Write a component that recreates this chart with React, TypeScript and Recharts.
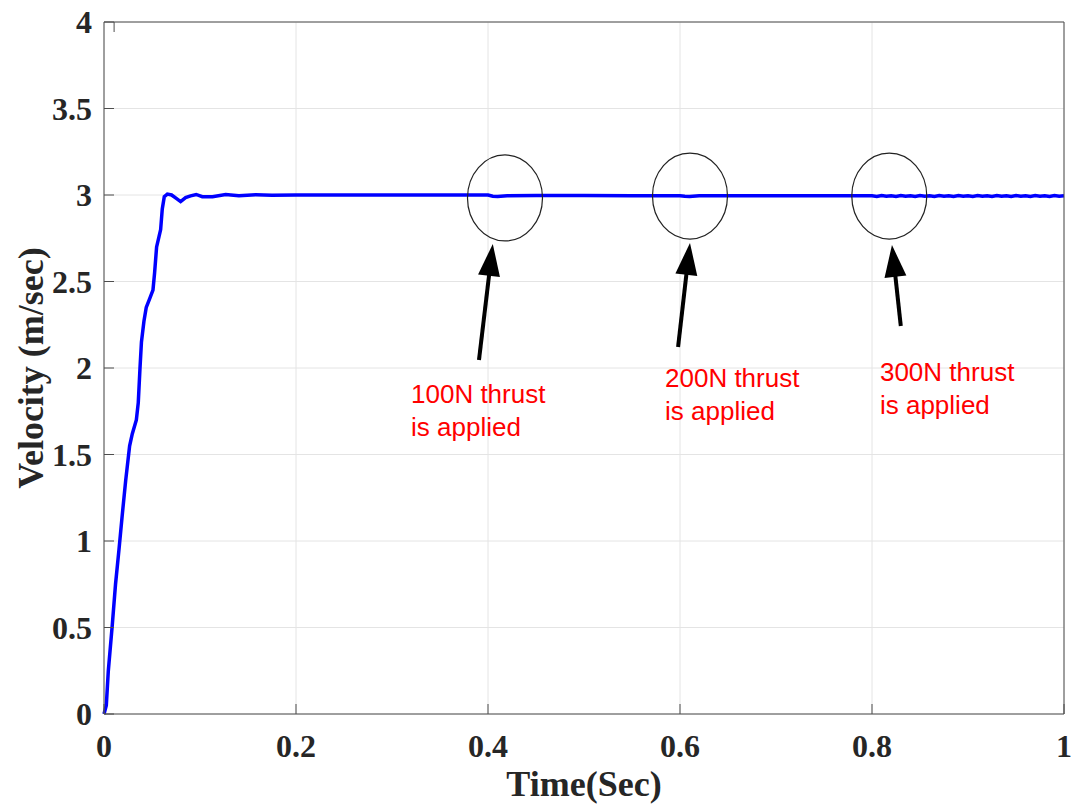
import { LineChart, Line, XAxis, YAxis, CartesianGrid, ReferenceDot, ReferenceLine } from "recharts";

// Time (s) and velocity (m/s)
const times = [
  0, 0.0024, 0.0045, 0.0087, 0.012, 0.0156, 0.019, 0.0226, 0.0267, 0.0295, 0.0337, 0.0357, 0.0375,
  0.039, 0.0416, 0.044, 0.0475, 0.051, 0.0527, 0.0548, 0.0573, 0.059, 0.0607, 0.0628, 0.066, 0.0704,
  0.0753, 0.0798, 0.085, 0.0902, 0.096, 0.1024, 0.113, 0.1267, 0.1405, 0.158, 0.175, 0.2, 0.25, 0.3,
  0.35, 0.4, 0.405, 0.41, 0.42, 0.45, 0.5, 0.55, 0.6, 0.605, 0.61, 0.62, 0.65, 0.7, 0.75, 0.8, 0.805,
  0.81, 0.815, 0.82, 0.825, 0.83, 0.835, 0.84, 0.845, 0.85, 0.855, 0.86, 0.865, 0.87, 0.875, 0.88,
  0.885, 0.89, 0.895, 0.9, 0.905, 0.91, 0.915, 0.92, 0.925, 0.93, 0.935, 0.94, 0.945, 0.95, 0.955,
  0.96, 0.965, 0.97, 0.975, 0.98, 0.985, 0.99, 0.995, 1.0,
];
const velocity = [
  0, 0.05, 0.25, 0.52, 0.75, 0.95, 1.15, 1.35, 1.55, 1.62, 1.7, 1.8, 2.0,
  2.15, 2.27, 2.35, 2.4, 2.45, 2.55, 2.7, 2.76, 2.8, 2.92, 2.99, 3.005, 3.0,
  2.98, 2.962, 2.985, 2.995, 3.003, 2.99, 2.99, 3.003, 2.995, 3.002, 2.998, 3.0, 3.0, 3.0,
  3.0, 3.0, 2.993, 2.992, 2.995, 2.997, 2.997, 2.996, 2.996, 2.993, 2.992, 2.995, 2.995, 2.995, 2.995, 2.995, 2.992,
  2.997, 2.993, 2.996, 2.992, 2.997, 2.993, 2.996, 2.992, 2.997, 2.993, 2.996, 2.992, 2.997, 2.993, 2.996,
  2.992, 2.997, 2.993, 2.996, 2.992, 2.997, 2.993, 2.996, 2.992, 2.997, 2.993, 2.996, 2.992, 2.997, 2.993,
  2.996, 2.992, 2.997, 2.993, 2.996, 2.992, 2.997, 2.993, 2.995,
];

const xTicks = [0, 0.2, 0.4, 0.6, 0.8, 1];
const yTicks = [0, 0.5, 1, 1.5, 2, 2.5, 3, 3.5, 4];

// annotation anchors in data units
const circleCenters = [
  { t: 0.4177, v: 2.983 },
  { t: 0.6104, v: 2.994 },
  { t: 0.818, v: 2.994 },
];
const arrows = [
  { from: { t: 0.3906, v: 2.046 }, to: { t: 0.405, v: 2.717 } },
  { from: { t: 0.598, v: 2.121 }, to: { t: 0.6104, v: 2.723 } },
  { from: { t: 0.83, v: 2.243 }, to: { t: 0.8208, v: 2.711 } },
];
const notes = [
  { t: 0.3198, v: 1.798, lines: ["100N thrust", "is applied"] },
  { t: 0.5844, v: 1.89, lines: ["200N thrust", "is applied"] },
  { t: 0.8083, v: 1.925, lines: ["300N thrust", "is applied"] },
];

const rows = times.map((t, i) => ({ t, v: velocity[i] }));

const AXIS = "#4d4d4d";
const LABEL = "#262626";
const SERIF = "'Liberation Serif', 'Times New Roman', serif";

const XTick = ({ x, y, payload }: any) => (
  <g>
    <line x1={x} y1={y} x2={x} y2={y - 10} stroke={AXIS} />
    <text x={x} y={y + 43} textAnchor="middle" fontFamily={SERIF} fontWeight="bold" fontSize={32} fill={LABEL}>
      {payload.value}
    </text>
  </g>
);

const TopTick = ({ x, y }: any) => <line x1={x} y1={y} x2={x} y2={y + 10} stroke={AXIS} />;

const YTick = ({ x, y, payload }: any) => (
  <g>
    <line x1={x} y1={y} x2={x + 10} y2={y} stroke={AXIS} />
    <text x={x - 12} y={y} textAnchor="end" dominantBaseline="central" fontFamily={SERIF} fontWeight="bold" fontSize={32} fill={LABEL}>
      {payload.value}
    </text>
  </g>
);

const RightTick = ({ x, y }: any) => <line x1={x} y1={y} x2={x - 10} y2={y} stroke={AXIS} />;

const yTitle = (props: any) => {
  const vb = props.viewBox;
  const cx = vb.x + 31;
  const cy = vb.y + vb.height / 2;
  return (
    <text x={cx} y={cy} transform={`rotate(-90 ${cx} ${cy})`} textAnchor="middle" dominantBaseline="central"
      fontFamily={SERIF} fontWeight="bold" fontSize={36} fill={LABEL}>
      Velocity (m/sec)
    </text>
  );
};

const xTitle = (props: any) => {
  const vb = props.viewBox;
  return (
    <text x={vb.x + vb.width / 2} y={vb.y + 82} textAnchor="middle" fontFamily={SERIF} fontWeight="bold" fontSize={36} fill={LABEL}>
      Time(Sec)
    </text>
  );
};

const Ring = ({ cx, cy }: any) => <ellipse cx={cx} cy={cy} rx={37.5} ry={43} fill="none" stroke="#222" strokeWidth={1.2} />;

const Arrow = ({ x1, y1, x2, y2 }: any) => {
  const dx = x2 - x1;
  const dy = y2 - y1;
  const len = Math.sqrt(dx * dx + dy * dy) || 1;
  const ux = dx / len;
  const uy = dy / len;
  const headLen = 32;
  const half = 11;
  const bx = x2 - ux * headLen;
  const by = y2 - uy * headLen;
  const pts = `${x2},${y2} ${bx - uy * half},${by + ux * half} ${bx + uy * half},${by - ux * half}`;
  return (
    <g>
      <line x1={x1} y1={y1} x2={bx + ux * 4} y2={by + uy * 4} stroke="#000" strokeWidth={4} />
      <polygon points={pts} fill="#000" />
    </g>
  );
};

const Note = (lines: string[]) => ({ cx, cy }: any) => (
  <text x={cx} y={cy} fontFamily="'Liberation Sans', Arial, sans-serif" fontSize={26} fill="#ff0000">
    <tspan x={cx} y={cy}>{lines[0]}</tspan>
    <tspan x={cx} y={cy + 33}>{lines[1]}</tspan>
  </text>
);

export default function App() {
  return (
    <div style={{ position: "absolute", left: 0, top: 0 }}>
      <LineChart width={1073} height={806} data={rows} margin={{ top: 21, right: 8, bottom: 0, left: 0 }}>
        <CartesianGrid stroke="#e4e4e4" />
        <XAxis dataKey="t" type="number" domain={[0, 1]} ticks={xTicks} height={92} tick={<XTick />}
          tickLine={false} tickSize={0} tickMargin={0} axisLine={{ stroke: AXIS }} label={xTitle} />
        <XAxis xAxisId="top" orientation="top" type="number" domain={[0, 1]} ticks={xTicks} height={1}
          tick={<TopTick />} tickLine={false} tickSize={0} tickMargin={0} axisLine={{ stroke: AXIS }} />
        <YAxis type="number" domain={[0, 4]} ticks={yTicks} width={104} tick={<YTick />}
          tickLine={false} tickSize={0} tickMargin={0} axisLine={{ stroke: AXIS }} label={yTitle} />
        <YAxis yAxisId="right" orientation="right" type="number" domain={[0, 4]} ticks={yTicks} width={1}
          tick={<RightTick />} tickLine={false} tickSize={0} tickMargin={0} axisLine={{ stroke: AXIS }} />
        <Line dataKey="v" type="linear" stroke="#0000ff" strokeWidth={3.5} dot={false} isAnimationActive={false} />
        {circleCenters.map((c, i) => (
          <ReferenceDot key={`c${i}`} x={c.t} y={c.v} r={1} shape={<Ring />} />
        ))}
        {arrows.map((a, i) => (
          <ReferenceLine key={`a${i}`} segment={[{ x: a.from.t, y: a.from.v }, { x: a.to.t, y: a.to.v }]} shape={Arrow} />
        ))}
        {notes.map((n, i) => (
          <ReferenceDot key={`n${i}`} x={n.t} y={n.v} r={1} shape={Note(n.lines)} />
        ))}
      </LineChart>
    </div>
  );
}
